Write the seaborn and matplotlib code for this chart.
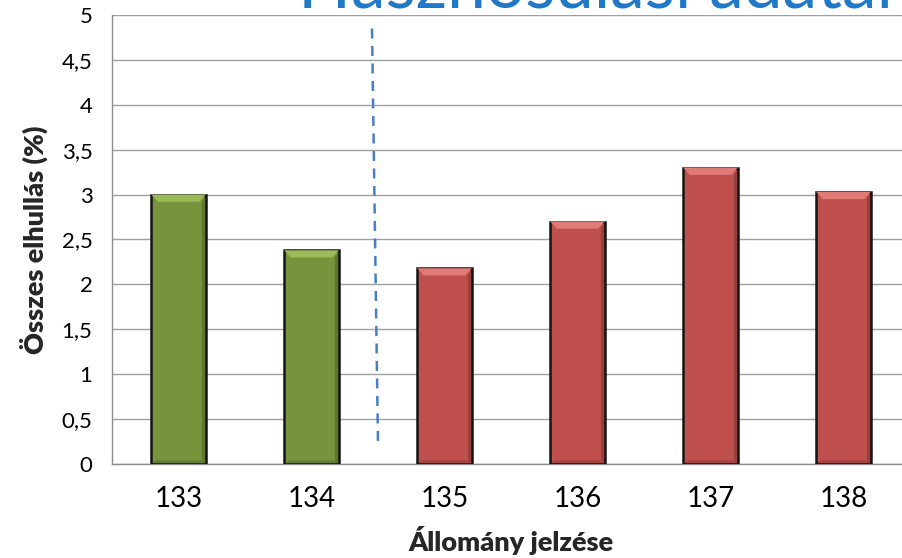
import matplotlib
matplotlib.use("Agg")
import matplotlib.pyplot as plt
from matplotlib.patches import Polygon
from matplotlib.ticker import FuncFormatter
import seaborn as sns
import pandas as pd

# Data
stations = ["133", "134", "135", "136", "137", "138"]
mortality = [3.0, 2.38, 2.18, 2.7, 3.3, 3.03]
groups = ["A", "A", "B", "B", "B", "B"]
group_colors = {"A": "#77933C", "B": "#C0504D"}
group_light = {"A": "#9BBB59", "B": "#E07A77"}
y_ticks = [0, 0.5, 1, 1.5, 2, 2.5, 3, 3.5, 4, 4.5, 5]

df = pd.DataFrame({"station": stations, "value": mortality, "group": groups})

sns.set_theme(style="white")
plt.rcParams["font.family"] = ["Lato", "DejaVu Sans"]

fig = plt.figure(figsize=(9.02, 5.58), dpi=100)
ax = fig.add_axes([112 / 902, 94 / 558, 798 / 902, 449 / 558])

sns.barplot(data=df, x="station", y="value", hue="group", palette=group_colors,
            saturation=1, dodge=False, width=0.41, legend=False, ax=ax,
            edgecolor="#141414", linewidth=1.8, zorder=3)

# bevelled top highlight and shaded right edge on each bar
for patch, grp in zip(ax.patches, groups):
    x0, y0 = patch.get_x(), patch.get_y()
    w, h = patch.get_width(), patch.get_height()
    if h <= 0:
        continue
    dx = w * 0.12
    dy = 0.08
    top = y0 + h
    poly = Polygon([[x0, top], [x0 + w, top], [x0 + w - dx, top - dy], [x0 + dx, top - dy]],
                   closed=True, facecolor=group_light[grp], edgecolor="none", zorder=4)
    ax.add_patch(poly)
    side = Polygon([[x0 + w, top], [x0 + w, y0], [x0 + w - dx * 0.6, y0 + dy * 0.5],
                    [x0 + w - dx * 0.6, top - dy]],
                   closed=True, facecolor="black", alpha=0.2, edgecolor="none", zorder=4)
    ax.add_patch(side)
    bottom = Polygon([[x0, y0], [x0 + w, y0], [x0 + w - dx * 0.6, y0 + dy * 0.5],
                      [x0 + dx * 0.6, y0 + dy * 0.5]],
                     closed=True, facecolor="black", alpha=0.15, edgecolor="none", zorder=4)
    ax.add_patch(bottom)

# separator between the two groups
ax.plot([1.455, 1.5], [4.85, 0.23], linestyle=(0, (4, 3)), color="#4A7EC4",
        linewidth=1.8, zorder=5)

ax.set_ylim(0, 5)
ax.set_xlim(-0.5, 5.5)
ax.set_yticks(y_ticks)
ax.yaxis.set_major_formatter(FuncFormatter(lambda v, p: f"{v:g}".replace(".", ",")))
ax.grid(axis="y", color="#A0A0A0", linewidth=1.0, zorder=0)
ax.set_axisbelow(True)

for s in ["top", "right"]:
    ax.spines[s].set_visible(False)
for s in ["left", "bottom"]:
    ax.spines[s].set_color("#8C8C8C")
    ax.spines[s].set_linewidth(1.0)

ax.set_xticks([i - 0.5 for i in range(6)], minor=False)
ax.set_xticklabels([])
ax.set_xticks(range(6), minor=True)
ax.set_xticklabels(stations, minor=True)
ax.tick_params(axis="x", which="major", length=6, color="#8C8C8C", width=1, direction="out")
ax.tick_params(axis="x", which="minor", length=0, labelsize=20, pad=16, labelcolor="#000000")
ax.tick_params(axis="y", length=6, color="#8C8C8C", width=1, direction="out",
               labelsize=16, pad=8, labelcolor="#000000")

ax.set_xlabel("Állomány jelzése", fontsize=19.5, fontweight="heavy", labelpad=10)
ax.set_ylabel("Összes elhullás (%)", fontsize=19.5, fontweight="heavy", labelpad=10)

fig.text(0.66, 1 - 8 / 558, "Hasznosulási adatai", ha="center", va="baseline",
         fontsize=50, color="#1F78C8", family=["Lato", "DejaVu Sans"])

fig.savefig("out.png", dpi=100)
